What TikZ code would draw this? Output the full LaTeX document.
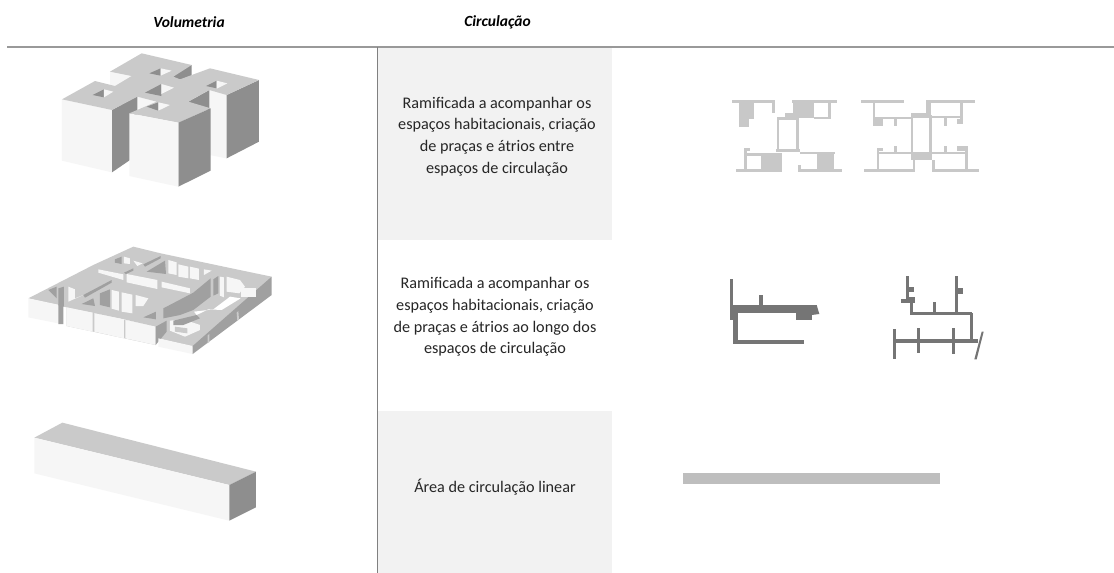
\documentclass[tikz,border=0pt]{standalone}
\usepackage{fontspec}
\setmainfont{Carlito}
\usepackage{tikz}
\definecolor{topgray}{HTML}{CACACA}
\definecolor{frontgray}{HTML}{F6F6F6}
\definecolor{sidegray}{HTML}{8E8E8E}
\definecolor{softgray}{HTML}{A0A0A0}
\definecolor{panelgray}{HTML}{F2F2F2}
\definecolor{planlight}{HTML}{C8C8C8}
\definecolor{plandark}{HTML}{757575}
\definecolor{rulegray}{HTML}{999999}
\definecolor{textgray}{HTML}{262626}
\tikzstyle{top} = [fill=topgray]
\tikzstyle{front} = [fill=frontgray]
\tikzstyle{side} = [fill=sidegray]
\tikzstyle{soft} = [fill=softgray]
\tikzstyle{panel} = [fill=panelgray]
\tikzstyle{light} = [fill=planlight]
\tikzstyle{dark} = [fill=plandark]
\tikzstyle{heading} = [text=black, font=\fontsize{15.5}{18}\selectfont\bfseries\itshape]
\tikzstyle{caption} = [text=textgray, align=center, font=\fontsize{16.2}{21.8}\selectfont]
\tikzstyle{zoomed} = [x=0.33333pt, y=-0.33333pt]
\begin{document}
\begin{tikzpicture}[x=1pt, y=-1pt]
    \useasboundingbox (0,0) rectangle (1114,573);
    \path[fill=white] (0,0) rectangle (1114,573);
    \path[panel] (378,48) rectangle (612,240);
    \path[panel] (378,411) rectangle (612,573);
    \path[fill=rulegray] (7,46) rectangle (1114,47.5);
    \path[fill=gray] (376.5,47) rectangle (378,573);
    \node[heading] (volumetria) at (189,22) {Volumetria};
    \node[heading] (circulacao) at (497.5,22) {Circulação};
    \node[caption] (textA) at (497,136.5) {Ramificada a acompanhar os\\espaços habitacionais, criação\\de praças e átrios entre\\espaços de circulação};
    \node[caption] (textB) at (495,317) {Ramificada a acompanhar os\\espaços habitacionais, criação\\de praças e átrios ao longo dos\\espaços de circulação};
    \node[caption] (textC) at (495,487) {Área de circulação linear};
    \begin{scope}[shift={(0,40)}, zoomed]
        \path[front] (330,95) -- (400,95) -- (400,140) -- (330,140) -- cycle;
        \path[side] (515,100) -- (575,75) -- (575,115) -- (520,140) -- cycle;
        \path[front] (630,150) -- (680,165) -- (680,355) -- (630,345) -- cycle;
        \path[side] (680,165) -- (777,120) -- (777,305) -- (680,355) -- cycle;
        \path[side] (565,185) -- (628,150) -- (628,210) -- (590,200) -- cycle;
        \path[front] (412,170) -- (470,185) -- (430,205) -- (412,205) -- cycle;
        \path[side] (336,210) -- (412,168) -- (412,345) -- (336,397) -- cycle;
        \path[front] (186,178) -- (336,210) -- (336,397) -- (186,362) -- cycle;
        \path[top] (186,178) -- (285,123) -- (345,138) -- (395,108) -- (330,95) -- (425,40) -- (575,75) -- (520,110) -- (540,118) -- (630,85) -- (777,120) -- (680,165) -- (628,150) -- (565,185) -- (632,205) -- (535,248) -- (388,220) -- (470,185) -- (412,170) -- (336,210) -- cycle;
        \path[side] (535,248) -- (632,205) -- (632,392) -- (535,440) -- cycle;
        \path[front] (388,220) -- (535,248) -- (535,440) -- (388,408) -- cycle;
        \path[side] (448,100) -- (482,85) -- (482,107) -- cycle;
        \path[front] (482,85) -- (515,92) -- (482,107) -- cycle;
        \path[side] (435,158) -- (484,132) -- (484,168) -- cycle;
        \path[front] (484,132) -- (522,143) -- (484,162) -- cycle;
        \path[side] (278,165) -- (312,148) -- (312,172) -- cycle;
        \path[front] (312,148) -- (340,155) -- (312,172) -- cycle;
        \path[side] (618,138) -- (650,122) -- (650,145) -- cycle;
        \path[front] (650,122) -- (682,130) -- (650,146) -- cycle;
        \path[side] (440,200) -- (475,187) -- (475,212) -- cycle;
        \path[front] (475,187) -- (510,195) -- (475,212) -- cycle;
    \end{scope}
    \begin{scope}[shift={(0,230)}, zoomed]
        \path[top] (85,205) -- (280,105) -- (400,50) -- (482,70) -- (695,115) -- (815,140) -- (720,245) -- (625,320) -- (578,350) -- (475,325) -- (467,290) -- (372,268) -- (200,232) -- cycle;
        \path[top] (200,232) -- (467,290) -- (467,345) -- (200,288) -- cycle;
        \path[front] (85,205) -- (175,224) -- (175,280) -- (85,262) -- cycle;
        \path[soft] (175,224) -- (190,215) -- (190,282) -- (175,282) -- cycle;
        \path[front] (200,232) -- (278,248) -- (278,305) -- (200,288) -- cycle;
        \path[front] (283,250) -- (372,268) -- (372,325) -- (283,305) -- cycle;
        \path[front] (376,270) -- (467,290) -- (467,345) -- (376,325) -- cycle;
        \path[soft] (467,290) -- (500,272) -- (500,305) -- (467,345) -- cycle;
        \path[front] (475,325) -- (578,348) -- (578,372) -- (475,350) -- cycle;
        \path[soft] (578,348) -- (815,140) -- (815,195) -- (578,372) -- cycle;
        \path[top] (623,316) -- (628,312) -- (628,336) -- (623,340) -- cycle;
        \path[top] (710,248) -- (715,243) -- (717,268) -- (712,273) -- cycle;
        \path[soft] (145,180) -- (170,170) -- (170,205) -- cycle;
        \path[soft] (175,175) -- (192,170) -- (192,230) -- (175,225) -- cycle;
        \path[front] (205,170) -- (225,178) -- (225,205) -- (250,195) -- (205,215) -- cycle;
        \path[soft] (250,195) -- (335,150) -- (335,158) -- (255,203) -- cycle;
        \path[soft] (300,190) -- (330,178) -- (330,232) -- (300,225) -- cycle;
        \path[front] (335,180) -- (357,185) -- (357,242) -- (335,236) -- cycle;
        \path[front] (365,187) -- (397,194) -- (397,250) -- (365,245) -- cycle;
        \path[front] (407,195) -- (445,205) -- (430,228) -- (407,228) -- cycle;
        \path[soft] (245,222) -- (280,205) -- (285,228) -- cycle;
        \path[soft] (430,262) -- (468,245) -- (468,268) -- cycle;
        \path[soft] (430,103) -- (482,78) -- (482,85) -- (435,110) -- cycle;
        \path[soft] (440,125) -- (495,92) -- (498,132) -- cycle;
        \path[soft] (372,128) -- (400,115) -- (400,122) -- (378,132) -- cycle;
        \path[front] (505,90) -- (530,97) -- (530,135) -- (505,130) -- cycle;
        \path[front] (535,103) -- (565,110) -- (565,145) -- (535,140) -- cycle;
        \path[front] (570,110) -- (597,116) -- (597,150) -- (570,145) -- cycle;
        \path[front] (612,118) -- (635,122) -- (612,135) -- cycle;
        \path[front] (295,118) -- (370,133) -- (370,150) -- (295,128) -- cycle;
        \path[front] (380,132) -- (472,150) -- (472,177) -- (380,157) -- cycle;
        \path[front] (485,155) -- (570,175) -- (570,190) -- (485,172) -- cycle;
        \path[soft] (490,235) -- (580,188) -- (632,145) -- (632,200) -- (580,240) -- (540,255) -- (490,265) -- cycle;
        \path[fill=white] (582,245) -- (640,238) -- (690,200) -- (722,205) -- (665,240) -- (625,238) -- (590,255) -- cycle;
        \path[soft] (640,148) -- (655,138) -- (655,190) -- (640,197) -- cycle;
        \path[front] (660,140) -- (672,142) -- (672,202) -- (660,197) -- cycle;
        \path[front] (680,140) -- (720,150) -- (735,170) -- (718,190) -- (680,185) -- cycle;
        \path[front] (722,173) -- (768,173) -- (768,200) -- (722,200) -- cycle;
        \path[soft] (345,88) -- (365,80) -- (365,102) -- (345,98) -- cycle;
        \path[front] (372,80) -- (390,85) -- (390,102) -- (372,100) -- cycle;
        \path[front] (400,92) -- (428,100) -- (412,108) -- cycle;
        \path[front] (510,272) -- (550,268) -- (600,285) -- (600,300) -- (555,320) -- (510,302) -- cycle;
        \path[soft] (520,272) -- (590,255) -- (600,265) -- (550,285) -- (520,285) -- cycle;
        \path[top] (525,290) -- (562,295) -- (562,310) -- (525,305) -- cycle;
    \end{scope}
    \begin{scope}[shift={(0,400)}, zoomed]
        \path[top] (103,113) -- (187,68) -- (768,215) -- (688,255) -- cycle;
        \path[front] (103,113) -- (688,255) -- (688,362) -- (103,220) -- cycle;
        \path[side] (688,255) -- (768,215) -- (768,322) -- (688,362) -- cycle;
    \end{scope}
    \begin{scope}[shift={(700,80)}, zoomed]
        \path[light] (95,60) rectangle (224,68);
        \path[light] (275,60) rectangle (412,68);
        \path[light] (118,60) rectangle (162,118);
        \path[light] (118,118) rectangle (148,140);
        \path[light] (215,60) rectangle (224,98);
        \path[light] (278,60) rectangle (342,112);
        \path[light] (255,98) rectangle (342,114);
        \path[light] (383,68) rectangle (392,118);
        \path[light] (342,110) rectangle (392,118);
        \path[light] (230,112) rectangle (298,120);
        \path[light] (230,112) rectangle (238,215);
        \path[light] (288,112) rectangle (296,215);
        \path[light] (228,208) rectangle (300,216);
        \path[light] (300,215) rectangle (405,222);
        \path[light] (132,205) rectangle (140,270);
        \path[light] (132,205) rectangle (150,213);
        \path[light] (132,220) rectangle (240,228);
        \path[light] (183,218) rectangle (245,272);
        \path[light] (108,266) rectangle (245,275);
        \path[light] (295,255) rectangle (303,270);
        \path[light] (295,266) rectangle (427,275);
        \path[light] (350,220) rectangle (403,270);
        \path[light] (482,60) rectangle (612,68);
        \path[light] (678,60) rectangle (826,68);
        \path[light] (518,68) rectangle (526,120);
        \path[light] (518,118) rectangle (548,138);
        \path[light] (582,118) rectangle (590,138);
        \path[light] (678,60) rectangle (692,105);
        \path[light] (632,98) rectangle (692,115);
        \path[light] (632,108) rectangle (790,115);
        \path[light] (780,68) rectangle (788,130);
        \path[light] (772,118) rectangle (790,132);
        \path[light] (733,115) rectangle (740,138);
        \path[light] (526,112) rectangle (632,118);
        \path[light] (632,105) rectangle (640,240);
        \path[light] (688,105) rectangle (696,240);
        \path[light] (530,205) rectangle (538,270);
        \path[light] (530,205) rectangle (548,213);
        \path[light] (582,198) rectangle (590,218);
        \path[light] (530,215) rectangle (800,222);
        \path[light] (733,198) rectangle (740,218);
        \path[light] (772,198) rectangle (802,212);
        \path[light] (795,198) rectangle (803,270);
        \path[light] (632,222) rectangle (696,240);
        \path[light] (640,240) rectangle (644,270);
        \path[light] (696,240) rectangle (704,270);
        \path[light] (492,268) rectangle (644,276);
        \path[light] (696,268) rectangle (836,276);
    \end{scope}
    \begin{scope}[shift={(700,260)}, zoomed]
        \path[dark] (90,58) rectangle (100,180);
        \path[dark] (98,160) rectangle (115,250);
        \path[dark] (92,135) rectangle (352,158);
        \path[dark] (288,135) rectangle (335,180);
        \path[dark] (350,135) -- (358,162) -- (335,165) -- (335,135) -- cycle;
        \path[dark] (178,105) rectangle (188,135);
        \path[dark] (98,241) rectangle (312,251);
        \path[dark] (618,48) rectangle (627,125);
        \path[dark] (627,80) rectangle (642,95);
        \path[dark] (604,118) rectangle (630,128);
        \path[dark] (628,112) rectangle (645,130);
        \path[dark] (630,125) rectangle (640,165);
        \path[dark] (632,156) rectangle (815,165);
        \path[dark] (700,125) rectangle (708,158);
        \path[dark] (766,48) rectangle (775,158);
        \path[dark] (775,85) rectangle (790,102);
        \path[dark] (810,158) rectangle (818,245);
        \path[dark] (585,238) rectangle (835,248);
        \path[dark] (580,207) rectangle (588,296);
        \path[dark] (652,205) rectangle (660,280);
        \path[dark] (755,205) rectangle (765,282);
        \path[dark] (845,215) -- (851,215) -- (830,298) -- (823,298) -- cycle;
    \end{scope}
    \path[fill=planlight!95!black] (683,473) rectangle (940,484);
\end{tikzpicture}
\end{document}
